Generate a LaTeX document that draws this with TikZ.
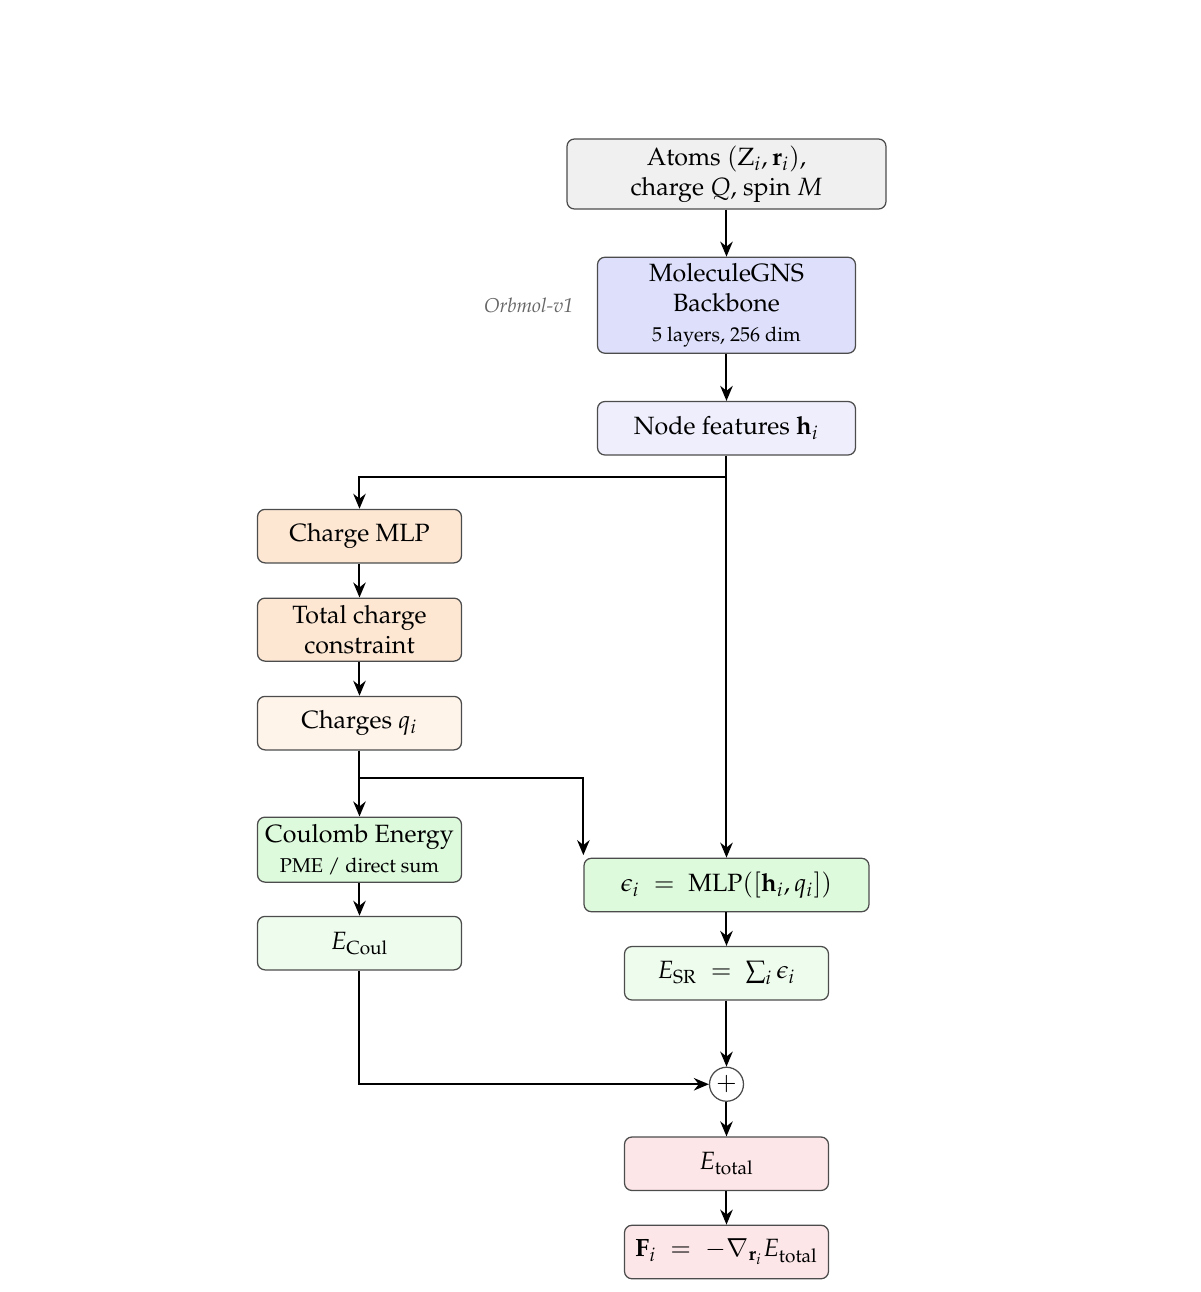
\documentclass[tikz,border=0pt]{standalone}
\usepackage[T1]{fontenc}
\usepackage{amsmath,amssymb}
\usepackage{mathpazo}
\usepackage{xcolor}
\usepackage{tikz}
\usetikzlibrary{arrows.meta,positioning}
\definecolor{inputC}{HTML}{F0F0F0}
\definecolor{gnsC}{HTML}{DDDFFB}
\definecolor{featC}{HTML}{EEEEFC}
\definecolor{chgC}{HTML}{FDE7D3}
\definecolor{chgLC}{HTML}{FEF4EA}
\definecolor{srC}{HTML}{DEFADD}
\definecolor{srLC}{HTML}{EEFCEE}
\definecolor{totC}{HTML}{FCE6E8}

\begin{document}
\begin{tikzpicture}[
    node distance=13.6pt,
    box/.style={draw=black!70, line width=0.5pt, rounded corners=3pt, align=center,
                minimum width=81.6pt, minimum height=21.4pt, inner sep=2pt},
    arrow/.style={-{Stealth[length=6pt,width=5pt]}, line width=0.8pt, draw=black},
    sumnode/.style={circle, draw=black!70, line width=0.5pt, fill=white,
                minimum size=13.6pt, inner sep=0pt}
]
\useasboundingbox (-290.6pt,69.6pt) rectangle (189.4pt,-447.2pt);
\node[box, fill=inputC, minimum width=127.6pt, minimum height=28pt] (atoms) at (0,0) {Atoms $(\mathrm{Z}_i, \mathbf{r}_i)$,\\charge $Q$, spin $M$};
\node[box, fill=gnsC, minimum width=103.2pt, minimum height=38.4pt, below=18.8pt of atoms] (gns) {MoleculeGNS\\Backbone\\{\footnotesize 5 layers, 256 dim}};
\node[left=5.9pt of gns, font=\footnotesize\itshape, text=black!60] (orb) {Orbmol-v1};
\node[box, fill=featC, minimum width=103.2pt, below=18.8pt of gns] (feat) {Node features $\mathbf{h}_i$};
\node[box, fill=chgC] (cmlp) at ([shift={(-146.8pt,-32.2pt)}]feat.south) {Charge MLP};
\node[box, fill=chgC, minimum height=25.2pt, below=of cmlp] (tcc) {Total charge\\constraint};
\node[box, fill=chgLC, below=of tcc] (charges) {Charges $q_i$};
\node[box, fill=srC, minimum height=26pt, below=26.4pt of charges] (coul) {Coulomb Energy\\{\footnotesize PME / direct sum}};
\node[box, fill=srLC, below=13.2pt of coul] (ecoul) {$E_{\text{Coul}}$};
\node[box, fill=srC, minimum width=114pt, below=160.8pt of feat] (eps) {$\epsilon_i \;=\; \text{MLP}([\mathbf{h}_i, q_i])$};
\node[box, fill=srLC, below=13.4pt of eps] (esr) {$E_{\text{SR}} \;=\; \sum_i \epsilon_i$};
\node[sumnode, below=26.4pt of esr] (plus) {$+$};
\node[box, fill=totC, below=13.8pt of plus] (etot) {$E_{\text{total}}$};
\node[box, fill=totC, below=13.4pt of etot] (force) {$\mathbf{F}_i \;=\; -\nabla_{\mathbf{r}_i} E_{\text{total}}$};

\draw[arrow] (atoms) -- (gns);
\draw[arrow] (gns) -- (feat);
\draw[arrow] (feat.south) -- ++(0,-8.4pt) -| (cmlp.north);
\draw[arrow] (feat.south) -- (eps.north);
\draw[arrow] (cmlp) -- (tcc);
\draw[arrow] (tcc) -- (charges);
\draw[arrow] (charges) -- (coul);
\draw[arrow] (charges.south) -- ++(0,-10.8pt) -| ([yshift=1pt]eps.north west);
\draw[arrow] (coul) -- (ecoul);
\draw[arrow] (ecoul.south) |- (plus.west);
\draw[arrow] (eps) -- (esr);
\draw[arrow] (esr) -- (plus);
\draw[arrow] (plus) -- (etot);
\draw[arrow] (etot) -- (force);
\end{tikzpicture}
\end{document}
